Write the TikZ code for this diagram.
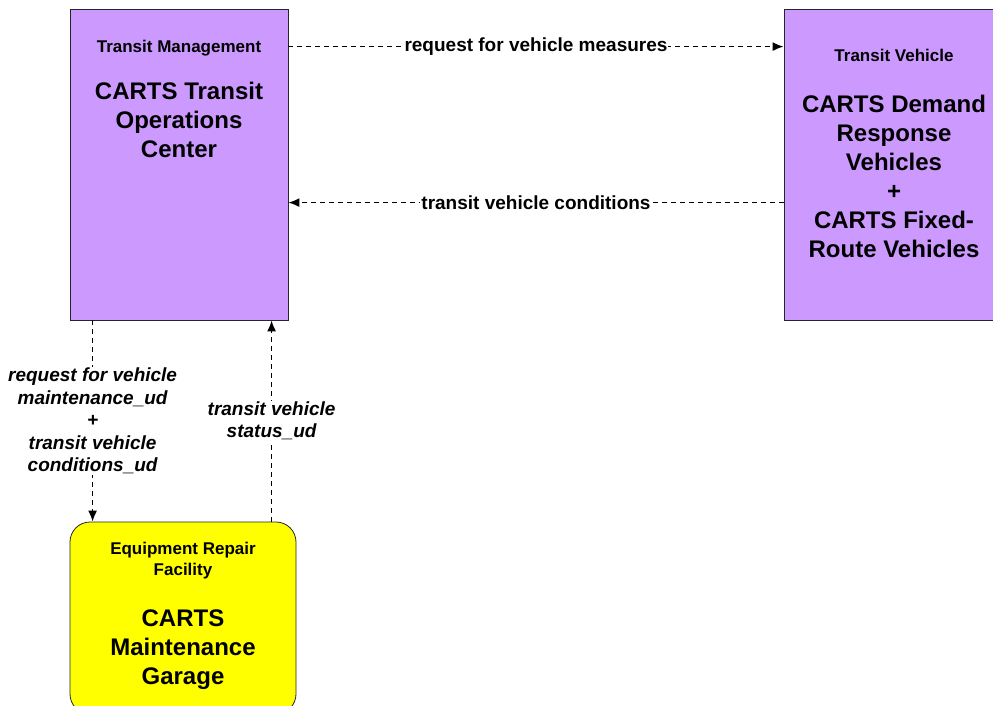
\documentclass[tikz,border=0pt]{standalone}
\usepackage{fontspec}
\setmainfont{Liberation Sans}
\usetikzlibrary{arrows.meta, positioning}
\definecolor{cartspurple}{HTML}{CC99FF}
\definecolor{cartsyellow}{HTML}{FFFF00}

\begin{document}
\begin{tikzpicture}[
  x=1pt, y=-1pt,
  entity/.style={draw=black!85, line width=0.8pt, fill=cartspurple, inner sep=0pt},
  facility/.style={entity, fill=cartsyellow, rounded corners=20pt},
  classtext/.style={inner sep=0pt, align=center, font=\bfseries\fontsize{17}{21}\selectfont},
  nametext/.style={inner sep=0pt, align=center, font=\bfseries\fontsize{24}{29}\selectfont},
  flow/.style={draw, line width=1.5pt, dash pattern=on 5pt off 4pt, -{Latex[length=11pt, width=9pt]}},
  flowlabel/.style={fill=white, inner sep=1pt, align=center, font=\bfseries\fontsize{19}{22.5}\selectfont},
  udlabel/.style={flowlabel, font=\bfseries\itshape\fontsize{19}{22.5}\selectfont}
]
\useasboundingbox (0,0) rectangle (993,706);

\node[entity, minimum width=218pt, minimum height=311pt] (tmc) at (179,164.5) {};
\node[entity, minimum width=220pt, minimum height=311pt] (veh) at (894,164.5) {};
\node[facility, minimum width=226pt, minimum height=192pt] (garage) at (183,618) {};

\node[classtext, below=31pt of tmc.north] (tmc-class) {Transit Management};
\node[nametext, below=26pt of tmc-class] (tmc-name) {CARTS Transit\\Operations\\Center};

\node[classtext, below=40pt of veh.north] (veh-class) {Transit Vehicle};
\node[nametext, below=33pt of veh-class] (veh-name) {CARTS Demand\\Response\\Vehicles\\+\\CARTS Fixed-\\Route Vehicles};

\node[classtext, below=20pt of garage.north] (garage-class) {Equipment Repair\\Facility};
\node[nametext, below=31pt of garage-class] (garage-name) {CARTS\\Maintenance\\Garage};

\draw[flow] ([yshift=-38pt]tmc.north east) -- node[flowlabel] {request for vehicle measures} ([yshift=-38pt]veh.north west);
\draw[flow] ([yshift=-194pt]veh.north west) -- node[flowlabel] {transit vehicle conditions} ([yshift=-194pt]tmc.north east);
\draw[flow] ([xshift=23pt]tmc.south west) -- node[udlabel] {request for vehicle\\maintenance\_ud\\+\\transit vehicle\\conditions\_ud} ([xshift=23pt]garage.north west);
\draw[flow] ([xshift=202pt]garage.north west) -- node[udlabel] {transit vehicle\\status\_ud} ([xshift=202pt]tmc.south west);
\end{tikzpicture}
\end{document}
